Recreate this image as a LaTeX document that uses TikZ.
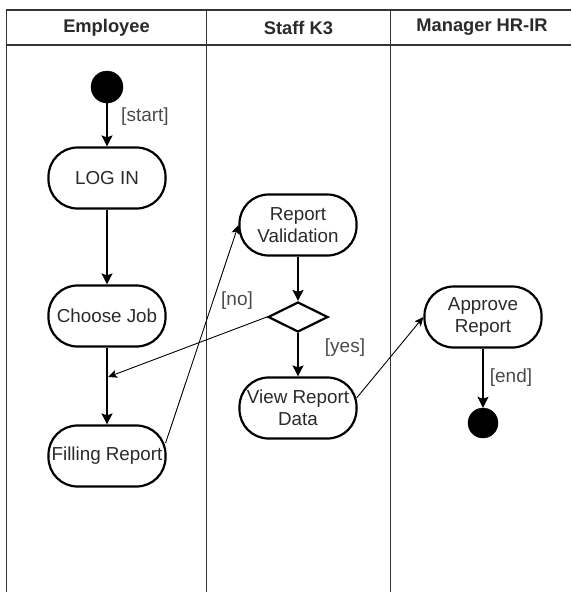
\documentclass[tikz,border=0pt]{standalone}
\usepackage{fontspec}
\setmainfont{Liberation Sans}
\usetikzlibrary{shapes.geometric,arrows.meta,calc}
\definecolor{txt}{HTML}{2A2A2A}
\definecolor{lane}{HTML}{333333}
\begin{document}
\begin{tikzpicture}[x=1pt,y=-1pt,
  act/.style={draw=black, line width=2.2pt, rounded corners=29pt, minimum width=117pt, minimum height=61pt, inner sep=0pt, align=center, font=\fontsize{18.8}{22.5}\selectfont, text=txt},
  decide/.style={draw=black, line width=2.2pt, diamond, minimum width=60pt, minimum height=30pt, inner sep=0pt},
  dot/.style={circle, fill=black, draw=black, inner sep=0pt, minimum size=#1},
  head/.style={font=\fontsize{18.3}{20}\selectfont\bfseries, text=txt},
  lbl/.style={font=\fontsize{19}{20}\selectfont, text=txt!85},
  flow/.style={line width=1.5pt, -{Stealth[length=11pt,width=11pt,inset=2pt]}},
  cross/.style={line width=0.9pt, -{Stealth[length=9pt,width=8pt,inset=2pt]}},
  laneline/.style={line width=1.2pt, draw=lane}
]
\useasboundingbox (0,0) rectangle (571,592);
% swimlanes
\draw[laneline] (6.5,592) -- (6.5,10) -- (571,10);
\draw[laneline] (6.5,45) -- (571,45);
\draw[laneline] (206.5,10) -- (206.5,592);
\draw[laneline] (390.5,10) -- (390.5,592);
\node[head] (h1) at (106.5,27.5) {Employee};
\node[head] (h2) at (298.5,27.5) {Staff K3};
\node[head] (h3) at (482,27.5) {Manager HR-IR};
% nodes
\node[dot=32pt] (start) at (107,87) {};
\node[act] (login) at (107,178) {LOG IN};
\node[act] (choose) at (107,316) {Choose Job};
\node[act] (fill) at (107,456) {Filling Report};
\node[act] (valid) at (298,225) {Report\\Validation};
\node[decide] (dec) at (298,317) {};
\node[act] (view) at (298,408) {View Report\\Data};
\node[act] (approve) at (483,317) {Approve\\Report};
\node[dot=30pt] (end) at (483,423) {};
\coordinate (merge) at (108,377);
% connectors
\draw[flow] (start) -- (login);
\draw[flow] (login) -- (choose);
\draw[flow] (choose) -- (fill);
\draw[cross] ($(fill.east)+(-1,-13)$) -- (valid.west);
\draw[flow] (valid) -- (dec);
\draw[cross] (dec.west) -- (merge);
\draw[flow] (dec) -- (view);
\draw[cross] ($(view.east)+(-1,-10)$) -- (approve.west);
\draw[flow] (approve) -- (end);
% labels
\node[lbl] (lstart) at (145,117) {[start]};
\node[lbl] (lno) at (237,301) {[no]};
\node[lbl] (lyes) at (345,348) {[yes]};
\node[lbl] (lend) at (511,378) {[end]};
\end{tikzpicture}
\end{document}
